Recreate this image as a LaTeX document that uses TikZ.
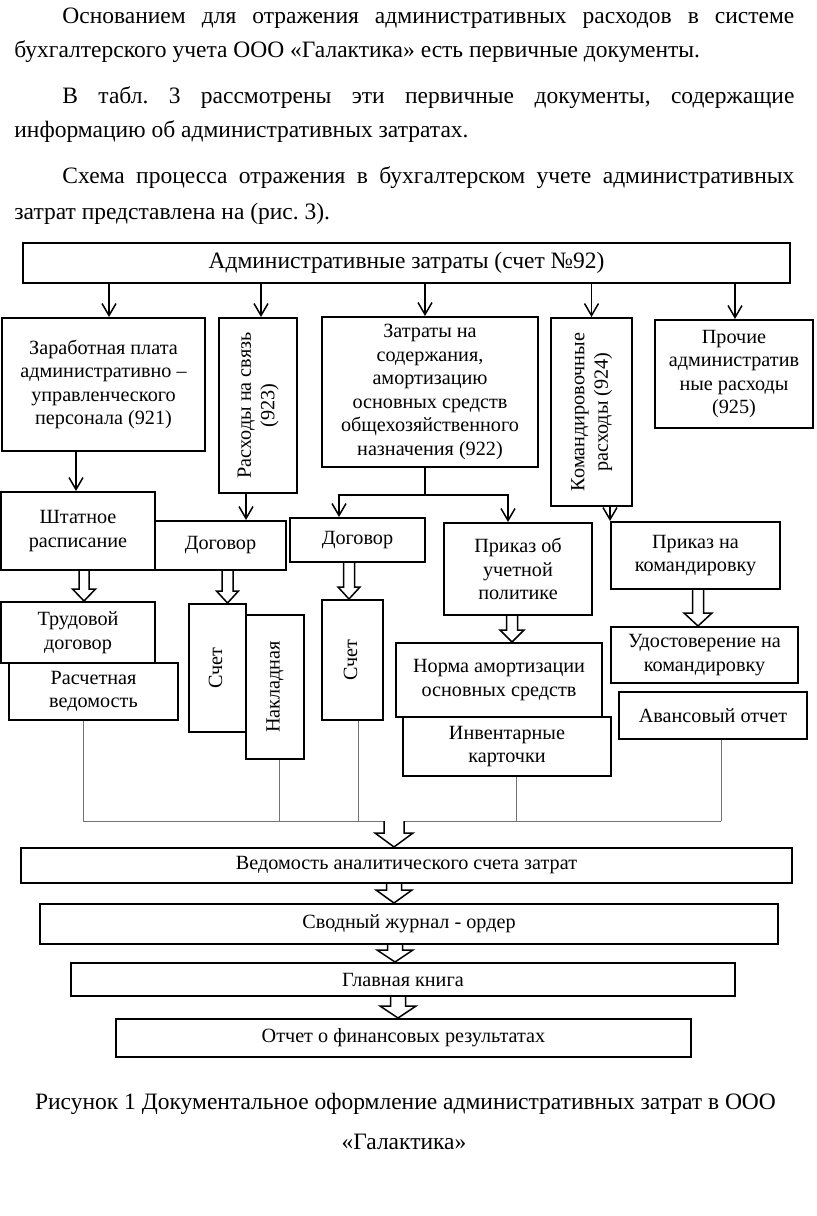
\documentclass[tikz,border=0pt]{standalone}
\usepackage{fontspec}
\setmainfont{Liberation Serif}
\usepackage{graphicx}
\usetikzlibrary{arrows.meta,calc}
\frenchspacing
\newcommand\bodyfont{\fontsize{11.75}{14}\selectfont}
\newcommand\boxfont{\fontsize{10.1}{11.75}\selectfont}
\newcommand\vtext[1]{\rotatebox{90}{\begin{tabular}{@{}c@{}}#1\end{tabular}}}
% hollow block arrow: start point, target node, shaft half width, head half width, head length
\newcommand\blockarr[5]{%
  \coordinate (ba1) at #1;
  \coordinate (ba2) at (ba1 |- #2.north);
  \draw[hollow] ($(ba1)+(-#3,0)$) -- ($(ba2)+(-#3,-#5)$) -- ($(ba2)+(-#4,-#5)$) -- (ba2)
    -- ($(ba2)+(#4,-#5)$) -- ($(ba2)+(#3,-#5)$) -- ($(ba1)+(#3,0)$);}
\tikzset{
  docbox/.style={draw,fill=white,line width=1pt,inner sep=1pt,align=center,font=\boxfont},
  wh/.style 2 args={minimum width=#1*0.5pt,minimum height=#2*0.5pt},
  arr/.style={-{Straight Barb[length=6pt,width=7pt]},line width=0.75pt},
  link/.style={line width=0.75pt},
  busline/.style={draw=black!55,line width=0.5pt},
  hollow/.style={draw,fill=white,line width=0.75pt,line join=miter},
  textline/.style={anchor=base west,inner sep=0pt,font=\bodyfont}
}
\begin{document}
\begin{tikzpicture}[x=0.5pt,y=-0.5pt]
\useasboundingbox (0,0) rectangle (816,1216);
% ---- text above the scheme ----
\node[textline] (p1) at (62,23) {\makebox[366pt][s]{Основанием для отражения административных расходов в системе}};
\node[textline] (p2) at (14,57) {бухгалтерского учета ООО «Галактика» есть первичные документы.};
\node[textline] (p3) at (62,103) {\makebox[366pt][s]{В табл. 3 рассмотрены эти первичные документы, содержащие}};
\node[textline] (p4) at (14,137) {информацию об административных затратах.};
\node[textline] (p5) at (62,183) {\makebox[366pt][s]{Схема процесса отражения в бухгалтерском учете административных}};
\node[textline] (p6) at (14,219) {затрат представлена на (рис. 3).};
% ---- accounts ----
\node[docbox,wh={767}{40},font=\bodyfont] (acc) at (406.5,263) {Административные затраты (счет №92)};
\node[docbox,wh={203}{133}] (zarp) at (103.5,384.5) {Заработная плата\\административно –\\управленческого\\персонала (921)};
\node[docbox,wh={78}{175}] (svyaz) at (258,405.5) {\vtext{Расходы на связь\\(923)}};
\node[docbox,wh={216}{150}] (soderzh) at (430,392) {Затраты на\\содержания,\\амортизацию\\основных средств\\общехозяйственного\\назначения (922)};
\node[docbox,wh={81}{188}] (komand) at (591.5,412) {\vtext{Командировочные\\расходы (924)}};
\node[docbox,wh={158}{108}] (proch) at (734,374) {Прочие\\административ\\ные расходы\\(925)};
% ---- documents ----
\node[docbox,wh={154}{78}] (shtat) at (78,531) {Штатное\\расписание};
\node[docbox,wh={131}{49}] (dog1) at (220.5,545.5) {Договор};
\node[docbox,wh={135}{44}] (dog2) at (357.5,540) {Договор};
\node[docbox,wh={148}{92}] (uchpol) at (518,569) {Приказ об\\учетной\\политике};
\node[docbox,wh={169}{67}] (prikom) at (695.5,555.5) {Приказ на\\командировку};
\node[docbox,wh={154}{61}] (trud) at (78,632.5) {Трудовой\\договор};
\node[docbox,wh={169}{57}] (rasch) at (93.5,691.5) {Расчетная\\ведомость};
\node[docbox,wh={57}{128}] (schet1) at (217.5,668) {\vtext{Счет}};
\node[docbox,wh={58}{144}] (naklad) at (275,687) {\vtext{Накладная}};
\node[docbox,wh={61}{120}] (schet2) at (352.5,660) {\vtext{Счет}};
\node[docbox,wh={206}{74}] (norma) at (499,680) {Норма амортизации\\основных средств};
\node[docbox,wh={208}{59}] (invent) at (507,746.5) {Инвентарные\\карточки};
\node[docbox,wh={187}{56}] (udost) at (704.5,655) {Удостоверение на\\командировку};
\node[docbox,wh={188}{47}] (avans) at (713,715.5) {Авансовый отчет};
% ---- registers ----
\node[docbox,wh={771}{35}] (vedom) at (406.5,865.5) {Ведомость аналитического счета затрат};
\node[docbox,wh={738}{40}] (svod) at (409,924) {Сводный журнал - ордер};
\node[docbox,wh={664}{33}] (glav) at (403,979.5) {Главная книга};
\node[docbox,wh={575}{38}] (otchet) at (403.5,1038) {Отчет о финансовых результатах};
% ---- caption ----
\node[font=\bodyfont,inner sep=0pt,anchor=base] (cap1) at (405.5,1109) {Рисунок 1 Документальное оформление административных затрат в ООО};
\node[font=\bodyfont,inner sep=0pt,anchor=base] (cap2) at (404,1149) {«Галактика»};
% ---- connectors ----
\foreach \n/\dx in {zarp/5.5,svyaz/3,soderzh/-5,komand/0,proch/1}
  \draw[arr] ([xshift=\dx*0.5pt]\n.north |- acc.south) -- ([xshift=\dx*0.5pt]\n.north);
\draw[arr] ([xshift=-1pt]shtat.north |- zarp.south) -- ([xshift=-1pt]shtat.north);
\draw[arr] ([xshift=12.75pt]dog1.north |- svyaz.south) -- ([xshift=12.75pt]dog1.north);
\draw[link] ([xshift=-2.5pt]soderzh.south) -- ++(0,27) coordinate (fork);
\draw[arr] (fork) -| ([xshift=-9.25pt]dog2.north);
\draw[arr] (fork) -| ([xshift=-5pt]uchpol.north);
\draw[arr] (prikom.north west |- komand.south) -- (prikom.north west);
\blockarr{([xshift=3pt]shtat.south)}{trud}{5}{11.5}{12}
\blockarr{([xshift=3.5pt]dog1.south)}{schet1}{5.5}{11}{12}
\blockarr{([xshift=-4.25pt]dog2.south)}{schet2}{5.5}{11}{12}
\blockarr{([xshift=-3pt]uchpol.south)}{norma}{5.5}{12}{12}
\blockarr{([xshift=1.25pt]prikom.south)}{udost}{5.5}{14}{13}
% ---- collecting lines ----
\coordinate (bus) at (394,821);
\foreach \n/\dx [count=\i] in {rasch/-10.5,naklad/4,schet2/5.5,invent/9,avans/8}
  \draw[busline] ([xshift=\dx*0.5pt]\n.south) coordinate (b\i) -- (b\i |- bus);
\draw[busline] (b1 |- bus) -- (b5 |- bus);
\blockarr{(bus)}{vedom}{10}{19}{14}
\blockarr{([xshift=-6.25pt]vedom.south)}{svod}{7.5}{18}{13}
\blockarr{([xshift=-7pt]svod.south)}{glav}{7.5}{18}{12}
\blockarr{([xshift=-2.5pt]glav.south)}{otchet}{7.5}{18}{12}
\end{tikzpicture}
\end{document}
